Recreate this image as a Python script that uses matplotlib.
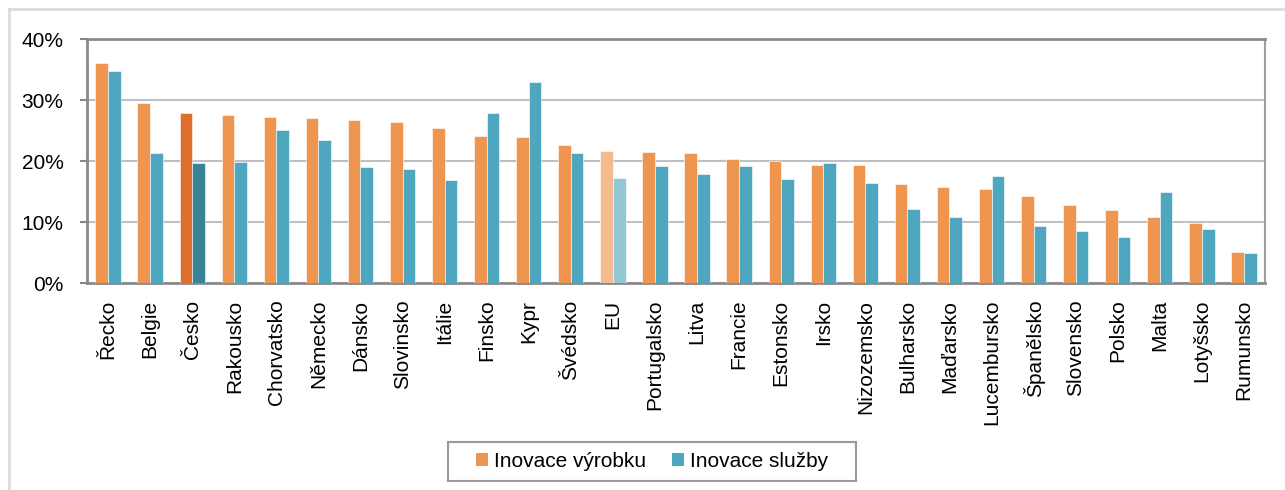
import numpy as np
import matplotlib
matplotlib.use("Agg")
import matplotlib.pyplot as plt
from matplotlib.lines import Line2D
from matplotlib.patches import Patch, Rectangle
from matplotlib.ticker import PercentFormatter

plt.rcParams['font.family'] = ['Liberation Sans', 'DejaVu Sans']

# data (%)
zeme = ['Řecko', 'Belgie', 'Česko', 'Rakousko', 'Chorvatsko', 'Německo', 'Dánsko',
        'Slovinsko', 'Itálie', 'Finsko', 'Kypr', 'Švédsko', 'EU', 'Portugalsko',
        'Litva', 'Francie', 'Estonsko', 'Irsko', 'Nizozemsko', 'Bulharsko',
        'Maďarsko', 'Lucembursko', 'Španělsko', 'Slovensko', 'Polsko', 'Malta',
        'Lotyšsko', 'Rumunsko']
vyrobky = [36.0, 29.5, 27.9, 27.5, 27.2, 27.0, 26.7, 26.4, 25.4, 24.1, 23.9, 22.6,
           21.6, 21.4, 21.3, 20.4, 20.0, 19.3, 19.3, 16.2, 15.8, 15.4, 14.3, 12.8,
           11.9, 10.8, 9.8, 5.1]
sluzby = [34.8, 21.3, 19.7, 19.8, 25.1, 23.4, 19.0, 18.7, 16.9, 27.8, 33.0, 21.3,
          17.2, 19.2, 17.9, 19.1, 17.0, 19.7, 16.4, 12.2, 10.9, 17.5, 9.3, 8.5,
          7.5, 14.9, 8.9, 4.9]

# barvy
c_or, c_bl = '#EE9650', '#4FA6BF'
c_or_cz, c_bl_cz = '#DD6E2B', '#388396'
c_or_eu, c_bl_eu = '#F4BC8E', '#94C7D6'

barvy_or = []
barvy_bl = []
for z in zeme:
    if z == 'Česko':
        barvy_or.append(c_or_cz); barvy_bl.append(c_bl_cz)
    elif z == 'EU':
        barvy_or.append(c_or_eu); barvy_bl.append(c_bl_eu)
    else:
        barvy_or.append(c_or); barvy_bl.append(c_bl)

fig = plt.figure(figsize=(12.85, 4.9), dpi=100)
ax = fig.add_axes([87/1285, 1 - 283/490, (1265 - 87)/1285, (283 - 39)/490])

x = np.arange(len(zeme))
w = 0.3
ax.bar(x - w/2, vyrobky, w, color=barvy_or, edgecolor='white', linewidth=0.4, zorder=3)
ax.bar(x + w/2, sluzby, w, color=barvy_bl, edgecolor='white', linewidth=0.4, zorder=3)

ax.set_xlim(-0.5, len(zeme) - 0.5)
ax.set_ylim(0, 40)
ax.set_yticks([0, 10, 20, 30, 40])
ax.yaxis.set_major_formatter(PercentFormatter(decimals=0))
ax.set_xticks(x)
ax.set_xticklabels(zeme, rotation=90)
ax.tick_params(axis='x', length=0, pad=12, labelsize=15)
ax.tick_params(axis='y', length=5, width=1.5, color='#868686', pad=12, labelsize=15)
ax.grid(axis='y', color='#C0C0C4', linewidth=1.5, zorder=0)

for s in ax.spines.values():
    s.set_color('#8A8A8E')
    s.set_linewidth(2)
ax.spines['right'].set_linewidth(1.5)
ax.spines['right'].set_color('#A0A0A4')

# legenda (ramecek zvlast, je sirsi nez obsah)
handles = [Patch(facecolor=c_or, label='Inovace výrobku'),
           Patch(facecolor=c_bl, label='Inovace služby')]
fig.legend(handles=handles, loc='center', bbox_to_anchor=(652/1285, 1 - 461.5/490),
           ncol=2, fontsize=15, frameon=False,
           handlelength=0.6, handleheight=0.6, handletextpad=0.3,
           columnspacing=1.2)
fig.add_artist(Rectangle((448/1285, 1 - 481/490), (856 - 448)/1285, 39/490,
                         transform=fig.transFigure, facecolor='none',
                         edgecolor='#9A9A9A', linewidth=1.5))

# okraj obrazku
fig.add_artist(Line2D([9/1285, 9/1285], [0, 1 - 9/490], color='#DCDCDC', linewidth=2))
fig.add_artist(Line2D([9/1285, 1], [1 - 9/490, 1 - 9/490], color='#DCDCDC', linewidth=2))

fig.savefig('out.png', dpi=100)
